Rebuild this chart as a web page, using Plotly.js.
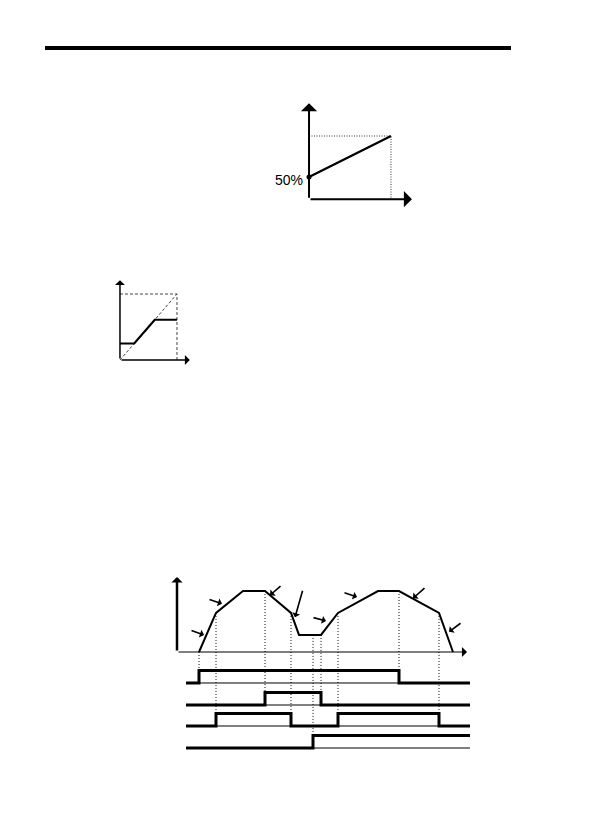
<!DOCTYPE html>
<html>
<head>
<meta charset="utf-8">
<script src="https://cdn.plot.ly/plotly-3.0.1.min.js"></script>
<style>
  html, body { margin: 0; padding: 0; background: #fff; }
  #canvas { width: 594px; height: 838px; }
</style>
</head>
<body>
<div id="canvas"></div>
<script>
// page size
const W = 594;
const H = 838;

// upper chart: bias line from 50% to 100%
const biasX = [0, 1];
const biasY = [50, 100];
const biasLabel = "50%";

// middle chart: clamped ramp and the 1:1 reference
const rampX = [0, 0.25, 0.61, 1];
const rampY = [0.25, 0.25, 0.61, 0.61];
const refX = [0, 1];
const refY = [0, 1];

// timing chart: speed profile
const profileT = [2.2, 3.9, 6.6, 8.8, 11.4, 12.2, 14.4, 16.1, 20.1, 22.2, 26.2, 27.6];
const profileV = [0, 64, 100, 100, 64, 28, 28, 64, 100, 100, 64, 0];

// callout arrows pointing at the profile (head / tail)
const calloutHeadT = [2.7, 4.5, 9.3, 11.8, 14.9, 18.0, 23.6, 27.2];
const calloutHeadV = [28, 79, 93, 57, 51, 90, 88, 33];
const calloutTailT = [1.3, 3.1, 10.5, 12.6, 13.5, 16.6, 24.9, 28.5];
const calloutTailV = [36, 87, 110, 103, 57, 98, 107, 49];

// timing signals (step edges and states)
const sig1T = [0.9, 2.2, 22.2, 29.3];
const sig1S = [0, 1, 0, 0];
const sig2T = [0.9, 8.8, 14.4, 29.3];
const sig2S = [0, 1, 0, 0];
const sig3T = [0.9, 3.9, 11.4, 16.1, 26.2, 29.3];
const sig3S = [0, 1, 0, 1, 0, 0];
const sig4T = [0.9, 13.6, 29.3];
const sig4S = [0, 1, 1];

// dotted guides: time and the signal they drop to
const guideT = [2.2, 3.9, 8.8, 11.4, 13.6, 14.4, 16.1, 22.2, 26.2];
const guideSig = [0, 2, 1, 2, 3, 1, 2, 0, 2];

// row placement of the signals on the timing y axis
const rowLow = [-50.8, -86.9, -121.3, -157.4];
const rowHeight = 20.5;

const dx = (px) => px / W;
const dy = (py) => 1 - py / H;

function speedAt(t) {
    for (let i = 1; i < profileT.length; i++) {
        if (t <= profileT[i]) {
            let f = (t - profileT[i - 1]) / (profileT[i] - profileT[i - 1]);
            return profileV[i - 1] + f * (profileV[i] - profileV[i - 1]);
        }
    }
    return 0;
}

function axisArrow(ax, ay, x0, y0, x1, y1, width, size) {
    return {
        xref: ax, yref: ay, axref: ax, ayref: ay,
        x: x1, y: y1, ax: x0, ay: y0,
        text: "", showarrow: true,
        arrowhead: 1, arrowsize: size, arrowwidth: width,
        arrowcolor: "#000", standoff: 0, startstandoff: 0,
    };
}

const black = "#000";
let traces = [];
let notes = [];

// ---- upper chart
const biasBase = 23;
const biasTop = 140;
const biasEnd = 1.256;
traces.push({ x: [0, biasX[1], biasX[1]], y: [biasY[1], biasY[1], biasBase], xaxis: "x", yaxis: "y",
    mode: "lines", line: { color: "#333", width: 1, dash: "1px,1.5px" } });
traces.push({ x: biasX, y: biasY, xaxis: "x", yaxis: "y", mode: "lines", line: { color: black, width: 2.2 } });
traces.push({ x: [biasX[0]], y: [biasY[0]], xaxis: "x", yaxis: "y", mode: "markers",
    marker: { color: black, size: 5 }, cliponaxis: false });
notes.push(axisArrow("x", "y", 0, biasBase, 0, biasTop, 2, 1.35));
notes.push(axisArrow("x", "y", 0, biasBase, biasEnd, biasBase, 2, 1.35));
notes.push({ xref: "x", yref: "y", x: 0, y: biasY[0], text: biasLabel, showarrow: false,
    xanchor: "right", yanchor: "middle", xshift: -4, yshift: -3,
    font: { family: "Liberation Sans Narrow, Arial Narrow, Liberation Sans, Arial", size: 14, color: black } });

// ---- middle chart
traces.push({ x: [0, refX[1], refX[1]], y: [refY[1], refY[1], 0], xaxis: "x2", yaxis: "y2",
    mode: "lines", line: { color: "#444", width: 1, dash: "3px,2px" } });
traces.push({ x: refX, y: refY, xaxis: "x2", yaxis: "y2", mode: "lines",
    line: { color: "#444", width: 1, dash: "3px,2px" } });
traces.push({ x: rampX, y: rampY, xaxis: "x2", yaxis: "y2", mode: "lines", line: { color: black, width: 2.2 } });
notes.push(axisArrow("x2", "y2", 0, 0, 0, 1.21, 1.5, 1.1));
notes.push(axisArrow("x2", "y2", 0, 0, 1.225, 0, 1.5, 1.1));

// ---- timing chart
let gx = [], gy = [];
guideT.forEach((t, i) => {
    gx.push(t, t, null);
    gy.push(speedAt(t), rowLow[guideSig[i]] + rowHeight, null);
});
traces.push({ x: gx, y: gy, xaxis: "x3", yaxis: "y3", mode: "lines",
    line: { color: "#111", width: 1, dash: "1px,2px" } });
traces.push({ x: profileT, y: profileV, xaxis: "x3", yaxis: "y3", mode: "lines", line: { color: black, width: 2 } });

[[sig1T, sig1S], [sig2T, sig2S], [sig3T, sig3S], [sig4T, sig4S]].forEach(([ts, ss], k) => {
    traces.push({ x: [ts[0], ts[ts.length - 1]], y: [rowLow[k], rowLow[k]], xaxis: "x3", yaxis: "y3",
        mode: "lines", line: { color: black, width: 1 } });
    traces.push({ x: ts, y: ss.map((s) => rowLow[k] + s * rowHeight), xaxis: "x3", yaxis: "y3",
        mode: "lines", line: { color: black, width: 3, shape: "hv" } });
});

notes.push(axisArrow("x3", "y3", 0, 0, 0, 123, 2.5, 0.75));
notes.push(axisArrow("x3", "y3", 0, 0, 29, 0, 1.2, 1.4));
calloutHeadT.forEach((t, i) => {
    notes.push(axisArrow("x3", "y3", calloutTailT[i], calloutTailV[i], t, calloutHeadV[i], 1.6, 0.85));
});

const hiddenAxis = (domain, range, anchor) => ({ domain, range, anchor, visible: false, fixedrange: true });

const layout = {
    width: W,
    height: H,
    margin: { l: 0, r: 0, t: 0, b: 0 },
    paper_bgcolor: "#fff",
    plot_bgcolor: "rgba(0,0,0,0)",
    showlegend: false,
    xaxis: hiddenAxis([dx(300), dx(420)], [-0.11, 1.354], "y"),
    yaxis: hiddenAxis([dy(205), dy(95)], [15.9, 150], "x"),
    xaxis2: hiddenAxis([dx(110), dx(200)], [-0.175, 1.404], "y2"),
    yaxis2: hiddenAxis([dy(368), dy(270)], [-0.121, 1.364], "x2"),
    xaxis3: hiddenAxis([dx(172), dx(477)], [-0.5, 30], "y3"),
    yaxis3: hiddenAxis([dy(755.7), dy(572.7)], [-170, 130], "x3"),
    shapes: [
        { type: "line", xref: "paper", yref: "paper", x0: dx(45), x1: dx(511), y0: dy(48), y1: dy(48),
          line: { color: black, width: 4 } },
    ],
    annotations: notes,
};

Plotly.newPlot("canvas", traces, layout, { staticPlot: true, displayModeBar: false });
</script>
</body>
</html>
